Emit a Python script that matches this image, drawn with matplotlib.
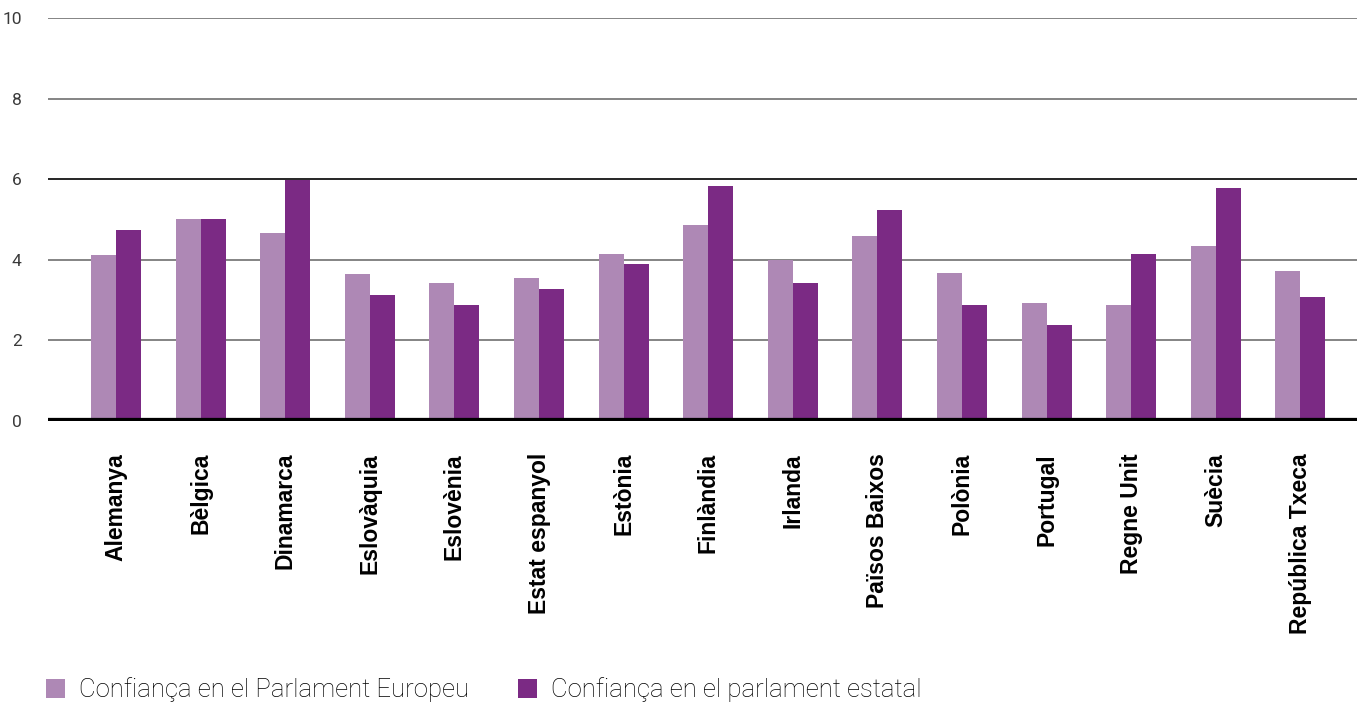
import matplotlib
matplotlib.use('Agg')
import matplotlib.pyplot as plt
import numpy as np

countries = ['Alemanya', 'Bèlgica', 'Dinamarca', 'Eslovàquia', 'Eslovènia',
             'Estat espanyol', 'Estònia', 'Finlàndia', 'Irlanda', 'Països Baixos',
             'Polònia', 'Portugal', 'Regne Unit', 'Suècia', 'República Txeca']
parl_europeu = [4.11, 5.01, 4.66, 3.64, 3.42, 3.54, 4.14, 4.86, 3.99, 4.59,
                3.67, 2.94, 2.87, 4.34, 3.72]
parl_estatal = [4.74, 5.01, 5.98, 3.14, 2.87, 3.27, 3.89, 5.84, 3.42, 5.24,
                2.87, 2.39, 4.14, 5.79, 3.09]
yticks = [0, 2, 4, 6, 8, 10]
labels = ['Confiança en el Parlament Europeu', 'Confiança en el parlament estatal']

c_light = '#ae88b5'
c_dark = '#7b2a84'

fig = plt.figure(figsize=(13.57, 7.04), dpi=100, facecolor='white')
ax = fig.add_axes([0.0354, 0.402, 0.9646, 0.572])

x = np.arange(len(countries))
w = 0.295
ax.bar(x - w / 2, parl_europeu, w, color=c_light, label=labels[0], zorder=3)
ax.bar(x + w / 2, parl_estatal, w, color=c_dark, label=labels[1], zorder=3)

# gridlines
for t in yticks[1:]:
    col = '#000000' if t == 6 else '#707070'
    ax.axhline(t, color=col, linewidth=1.2, zorder=1)
ax.axhline(0, color='black', linewidth=4.5, zorder=4)

ax.set_xlim(-0.804, 14.67)
ax.set_ylim(0, 10)
ax.set_yticks(yticks)
ax.set_yticklabels([str(t) for t in yticks], fontsize=12.5, color='#3a3a3a',
                   family='Roboto')
ax.set_xticks(x)
ax.set_xticklabels(countries, rotation=90, fontsize=16.5, fontweight='bold',
                   family='Liberation Sans', va='top', ha='center')
ax.tick_params(axis='both', length=0)
ax.tick_params(axis='x', pad=23)
ax.tick_params(axis='y', pad=19)
for s in ax.spines.values():
    s.set_visible(False)

fig.legend(loc='lower left', bbox_to_anchor=(0.026, -0.012), ncol=2, frameon=False,
           borderaxespad=0.0,
           prop={'family': 'Roboto', 'weight': 'light', 'size': 18.5},
           handlelength=0.75, handleheight=0.75, handletextpad=0.55, columnspacing=1.9)

plt.savefig('out.png', dpi=100, facecolor=fig.get_facecolor())
plt.close()
